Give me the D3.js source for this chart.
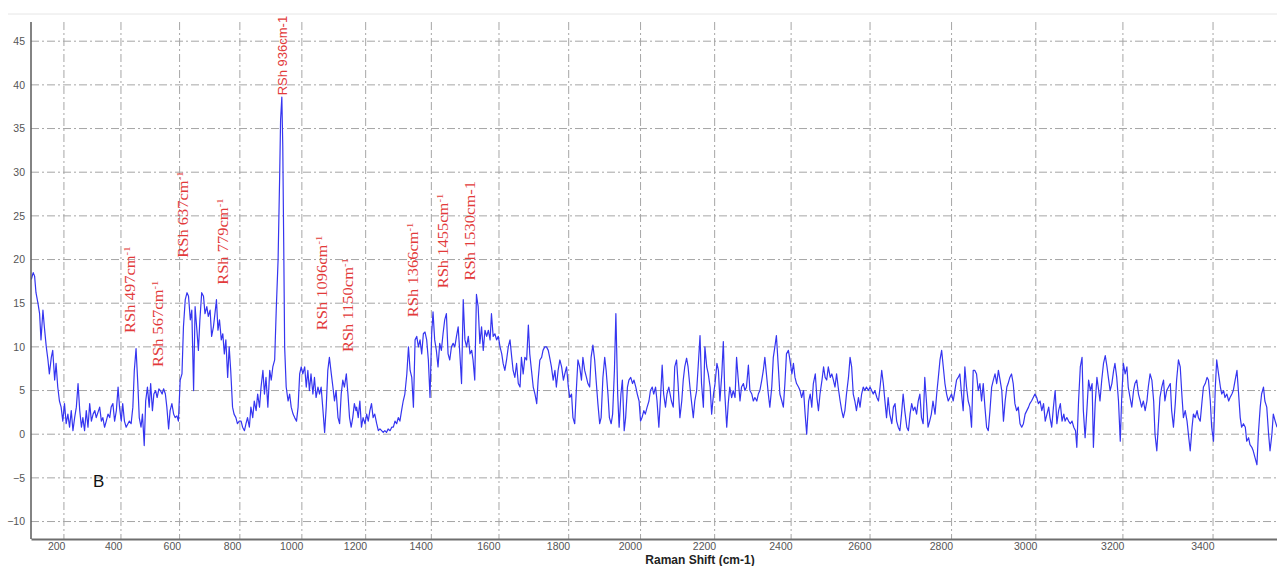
<!DOCTYPE html>
<html>
<head>
<meta charset="utf-8">
<script src="https://cdn.jsdelivr.net/npm/d3@7"></script>
<style>
  body { margin: 0; background: #fff; }
  svg { display: block; }
</style>
</head>
<body>
<div id="chart"></div>
<script>
// Raman spectrum, sample B: [raman shift (cm-1), intensity]
const spectrum = [
  [83,17.7],[90,18.5],[95,18.1],[100,16.2],[107,15.0],[113,13.8],[118,10.8],[125,14.2],[130,12.3],[137,10.0],
  [143,8.5],[148,6.9],[155,8.8],[160,9.6],[167,6.2],[172,8.1],[178,5.4],[184,3.8],[190,3.1],[196,1.5],
  [202,3.5],[208,1.2],[214,2.3],[220,0.8],[226,2.7],[232,0.4],[238,1.9],[244,3.1],[250,5.8],[256,2.7],
  [262,0.8],[267,1.9],[273,0.4],[279,2.7],[285,0.8],[291,3.5],[297,1.5],[303,2.3],[309,2.7],[314,1.9],
  [320,2.5],[326,3.1],[332,1.5],[337,1.9],[343,0.8],[349,1.5],[355,2.3],[361,1.9],[366,3.1],[372,3.5],
  [378,1.5],[384,2.7],[390,5.4],[395,3.1],[401,1.5],[406,3.5],[412,1.5],[418,0.8],[424,1.2],[429,1.5],
  [435,1.2],[441,3.1],[446,7.3],[452,9.8],[458,5.8],[463,1.9],[469,0.8],[474,2.3],[480,-1.3],[485,3.8],
  [491,5.4],[497,3.1],[502,5.8],[508,2.7],[513,4.6],[519,5.0],[524,4.2],[530,5.2],[535,5.0],[541,4.6],
  [546,5.2],[552,4.6],[557,3.1],[563,0.6],[568,2.7],[574,3.5],[580,2.3],[585,1.9],[591,2.1],[596,1.5],
  [602,6.2],[608,6.9],[613,12.3],[619,15.4],[625,16.2],[630,15.8],[636,13.1],[641,14.2],[647,5.0],[652,14.6],
  [658,11.9],[663,9.6],[668,13.1],[674,16.2],[680,15.8],[685,13.8],[691,14.6],[696,13.5],[702,14.2],[707,11.2],
  [713,12.3],[718,13.8],[723,15.4],[728,11.9],[733,13.1],[739,10.8],[744,11.5],[749,9.2],[754,10.8],[760,6.5],
  [765,10.0],[770,7.3],[776,3.1],[781,2.3],[787,1.9],[792,1.2],[798,1.5],[804,1.5],[809,0.8],[815,0.4],
  [820,1.2],[825,1.9],[831,0.8],[836,3.1],[842,1.9],[847,3.8],[853,2.7],[858,4.6],[864,3.1],[869,5.4],
  [875,7.3],[880,4.6],[885,6.5],[891,3.1],[897,7.3],[902,6.2],[907,7.7],[913,8.5],[918,14.2],[924,20.0],
  [929,29.5],[932,36.0],[936,38.6],[939,33.0],[942,22.0],[945,10.0],[950,5.4],[956,3.8],[961,4.6],[966,3.1],
  [972,2.3],[977,1.9],[983,1.5],[988,3.1],[993,6.9],[998,7.7],[1003,6.9],[1009,7.7],[1014,5.4],[1019,7.3],
  [1024,5.0],[1029,6.9],[1035,4.6],[1040,6.5],[1045,4.2],[1051,5.4],[1056,4.6],[1061,5.4],[1066,3.1],[1072,0.2],
  [1077,3.1],[1082,7.3],[1087,8.8],[1093,6.9],[1098,5.4],[1103,3.8],[1108,5.0],[1114,1.9],[1119,1.2],[1124,4.6],
  [1129,6.2],[1134,5.4],[1140,6.9],[1145,4.6],[1150,1.9],[1155,0.8],[1160,1.9],[1165,3.5],[1170,2.7],[1172,3.1],
  [1177,1.9],[1182,3.8],[1187,0.8],[1192,1.9],[1198,1.2],[1203,2.3],[1208,1.5],[1213,2.7],[1218,3.5],[1223,1.9],
  [1228,2.3],[1234,1.2],[1239,0.4],[1244,0.6],[1249,0.4],[1254,0.2],[1259,0.4],[1264,0.2],[1269,0.6],[1275,0.4],
  [1280,0.8],[1285,0.8],[1290,1.5],[1295,1.2],[1300,1.9],[1305,1.5],[1310,2.7],[1315,3.8],[1320,4.6],[1326,6.9],
  [1331,10.0],[1336,7.3],[1341,6.5],[1346,3.1],[1351,10.8],[1356,11.2],[1361,10.0],[1366,10.8],[1371,9.2],[1376,11.5],
  [1381,11.7],[1386,10.8],[1391,8.5],[1396,4.2],[1401,11.5],[1405,14.0],[1410,10.8],[1415,9.6],[1420,7.7],[1425,10.4],
  [1430,9.6],[1435,11.5],[1440,13.1],[1445,13.8],[1450,9.2],[1455,8.5],[1460,10.0],[1465,10.4],[1470,10.0],[1475,11.2],
  [1480,12.3],[1485,9.2],[1490,5.8],[1495,15.4],[1500,10.8],[1505,10.0],[1510,11.2],[1515,9.2],[1520,9.6],[1524,8.5],
  [1529,6.2],[1534,16.0],[1539,14.6],[1544,10.4],[1549,12.3],[1554,9.6],[1559,11.9],[1564,11.2],[1569,11.9],[1574,10.8],
  [1578,13.8],[1583,11.2],[1588,11.5],[1593,10.8],[1598,11.2],[1603,10.0],[1608,9.2],[1612,8.1],[1617,7.3],[1622,8.5],
  [1627,10.0],[1632,10.8],[1637,8.8],[1641,7.3],[1646,6.5],[1651,8.1],[1656,5.8],[1661,5.4],[1665,8.8],[1670,6.9],
  [1675,8.8],[1680,8.5],[1685,12.5],[1689,9.2],[1694,7.3],[1699,5.4],[1704,4.6],[1709,3.5],[1713,6.2],[1718,8.5],
  [1723,8.8],[1727,9.6],[1732,10.0],[1737,10.0],[1742,9.6],[1746,8.8],[1751,7.7],[1756,6.2],[1761,7.3],[1765,5.4],
  [1770,7.3],[1775,8.5],[1780,7.7],[1785,6.2],[1789,6.9],[1794,7.7],[1799,5.4],[1803,4.2],[1808,4.6],[1812,1.9],
  [1817,1.2],[1822,5.4],[1826,8.5],[1831,7.7],[1836,6.2],[1840,8.8],[1845,7.3],[1850,6.5],[1854,5.8],[1859,5.4],
  [1863,8.8],[1868,10.2],[1873,8.5],[1877,6.2],[1882,3.5],[1887,1.2],[1891,1.9],[1896,6.5],[1901,8.8],[1905,7.3],
  [1910,4.6],[1914,1.9],[1919,1.2],[1923,2.3],[1928,7.3],[1932,13.8],[1937,4.6],[1941,0.8],[1946,4.6],[1950,6.2],
  [1955,0.4],[1959,1.9],[1964,5.4],[1968,6.2],[1973,6.5],[1978,5.8],[1982,6.2],[1987,5.4],[1991,4.6],[1996,3.8],
  [2000,1.5],[2004,1.9],[2009,2.7],[2013,2.3],[2018,3.1],[2023,3.8],[2027,5.0],[2032,5.4],[2036,4.6],[2041,5.4],
  [2045,3.8],[2050,0.8],[2054,3.8],[2059,7.9],[2063,4.6],[2068,3.1],[2072,4.6],[2077,5.4],[2084,3.8],[2089,3.1],
  [2093,7.7],[2098,8.5],[2102,5.8],[2107,1.9],[2112,3.8],[2116,6.2],[2120,7.7],[2125,8.7],[2129,7.7],[2134,5.4],
  [2138,3.8],[2143,1.9],[2147,3.8],[2152,5.0],[2156,7.7],[2161,11.3],[2165,5.8],[2170,3.1],[2174,10.0],[2179,7.7],
  [2183,6.9],[2188,5.4],[2192,2.3],[2197,4.6],[2201,5.8],[2206,8.1],[2210,7.3],[2214,3.8],[2219,6.9],[2223,10.6],
  [2227,4.6],[2232,0.8],[2236,3.5],[2240,5.4],[2245,4.2],[2249,5.0],[2254,4.2],[2258,8.8],[2262,6.5],[2267,3.8],
  [2271,5.4],[2276,5.8],[2280,5.0],[2284,5.4],[2289,7.9],[2293,5.0],[2298,4.6],[2302,3.8],[2306,4.2],[2311,3.8],
  [2315,4.6],[2319,5.0],[2324,6.2],[2328,7.3],[2332,8.8],[2337,6.5],[2341,4.6],[2345,3.1],[2350,5.4],[2354,8.8],
  [2358,10.0],[2362,11.3],[2367,7.7],[2371,4.6],[2376,3.8],[2380,3.1],[2384,5.8],[2388,9.2],[2393,9.6],[2397,8.5],
  [2402,6.9],[2406,8.1],[2410,6.5],[2414,5.8],[2419,5.4],[2423,5.0],[2427,4.2],[2432,5.0],[2436,2.3],[2440,0.0],
  [2445,3.8],[2449,4.6],[2453,3.1],[2457,5.8],[2462,6.9],[2466,4.2],[2470,2.7],[2474,4.6],[2479,6.2],[2483,7.7],
  [2487,6.5],[2491,6.2],[2495,7.7],[2500,6.5],[2504,6.9],[2508,6.2],[2512,5.4],[2516,6.9],[2520,5.4],[2525,3.8],
  [2529,2.7],[2533,1.9],[2537,2.7],[2541,4.6],[2546,6.5],[2550,8.8],[2554,7.7],[2558,4.6],[2562,3.8],[2566,2.7],
  [2571,4.2],[2575,3.1],[2579,4.6],[2583,5.4],[2587,5.0],[2591,5.4],[2596,5.0],[2600,5.4],[2604,5.0],[2608,4.6],
  [2612,5.0],[2617,4.2],[2621,3.8],[2625,5.4],[2629,7.3],[2633,5.8],[2637,3.8],[2641,1.9],[2645,4.2],[2649,2.3],
  [2654,1.2],[2658,3.1],[2662,3.5],[2666,1.5],[2670,0.8],[2674,0.4],[2678,2.3],[2682,4.6],[2686,2.7],[2691,0.8],
  [2695,0.4],[2699,2.3],[2703,3.5],[2707,2.7],[2711,3.1],[2715,2.3],[2719,3.8],[2723,4.6],[2727,1.9],[2731,1.2],
  [2735,6.5],[2739,3.8],[2743,0.8],[2747,1.5],[2751,2.3],[2755,3.8],[2760,2.3],[2764,4.6],[2768,6.5],[2772,8.5],
  [2776,9.6],[2780,7.7],[2784,5.8],[2788,4.6],[2792,3.8],[2796,4.2],[2800,4.6],[2804,3.8],[2808,5.0],[2812,6.2],
  [2816,6.5],[2820,6.9],[2824,4.6],[2828,2.7],[2832,7.7],[2836,5.4],[2840,3.8],[2844,3.1],[2848,0.8],[2852,7.3],
  [2856,7.3],[2860,6.9],[2864,5.0],[2868,5.8],[2872,3.8],[2876,5.8],[2880,3.1],[2884,0.8],[2888,0.4],[2892,2.7],
  [2896,5.4],[2900,6.2],[2904,6.9],[2908,5.8],[2912,7.3],[2916,6.2],[2920,5.0],[2924,1.5],[2928,3.8],[2932,5.4],
  [2935,5.8],[2939,6.5],[2943,6.9],[2947,5.8],[2951,3.5],[2955,2.7],[2959,3.1],[2963,1.2],[2967,0.8],[2971,1.2],
  [2975,2.3],[2979,2.7],[2983,3.1],[2986,3.5],[2990,3.8],[2994,4.2],[2998,4.6],[3002,4.2],[3006,3.5],[3010,3.8],
  [3014,2.7],[3018,3.5],[3022,1.5],[3026,2.3],[3030,3.1],[3033,1.9],[3037,0.8],[3041,3.1],[3045,5.0],[3049,1.2],
  [3053,2.7],[3057,3.5],[3061,1.5],[3065,2.3],[3068,1.5],[3072,1.9],[3076,1.5],[3080,1.2],[3084,1.5],[3088,0.8],
  [3092,0.4],[3095,-1.5],[3099,3.8],[3103,7.7],[3107,8.8],[3110,2.7],[3114,-0.4],[3118,2.7],[3122,6.2],[3126,5.0],
  [3130,5.8],[3133,-1.5],[3137,3.5],[3141,6.5],[3145,5.0],[3148,3.8],[3152,6.2],[3156,8.1],[3160,9.0],[3164,7.7],
  [3167,6.5],[3171,5.0],[3175,5.8],[3179,7.3],[3182,8.1],[3186,6.5],[3190,3.8],[3194,-0.8],[3197,3.8],[3201,8.1],
  [3205,6.9],[3209,7.7],[3212,5.4],[3216,4.2],[3220,3.1],[3224,5.0],[3227,5.8],[3231,6.2],[3235,4.6],[3239,3.8],
  [3242,3.1],[3246,3.8],[3250,2.7],[3254,3.8],[3257,5.4],[3261,6.9],[3265,6.2],[3269,3.8],[3272,0.0],[3276,-1.9],
  [3280,1.5],[3283,4.2],[3287,5.4],[3291,6.2],[3294,3.8],[3298,5.0],[3302,5.4],[3306,5.8],[3309,2.7],[3313,0.8],
  [3317,3.5],[3320,6.2],[3324,8.5],[3328,7.7],[3332,4.2],[3335,1.9],[3339,2.7],[3343,1.5],[3346,0.0],[3350,-1.9],
  [3354,0.8],[3357,2.3],[3361,1.9],[3365,2.7],[3368,1.9],[3372,1.5],[3376,3.8],[3379,5.4],[3383,5.8],[3387,6.5],
  [3390,6.2],[3394,3.8],[3397,0.8],[3401,-0.8],[3405,5.4],[3408,8.5],[3412,6.9],[3416,5.4],[3419,4.6],[3423,5.0],
  [3426,4.2],[3430,4.6],[3434,3.8],[3437,4.2],[3441,4.6],[3444,5.0],[3448,6.2],[3452,7.3],[3455,5.0],[3459,1.9],
  [3462,0.8],[3466,1.2],[3470,0.8],[3473,-0.8],[3477,-0.4],[3480,-1.2],[3484,-1.5],[3487,-1.9],[3491,-2.7],[3495,-3.5],
  [3498,0.0],[3502,3.1],[3505,4.6],[3509,5.4],[3512,3.8],[3516,3.1],[3520,0.0],[3523,-1.9],[3527,0.0],[3530,2.3],
  [3534,1.5],[3538,0.8]
];

const xTicks = [200,400,600,800,1000,1200,1400,1600,1800,2000,2200,2400,2600,2800,3000,3200,3400];
const yTicks = [-10,-5,0,5,10,15,20,25,30,35,40,45];

// peak labels: text, whether it has a superscript -1, where the label sits (shift, intensity at its foot)
const peakText  = ["RSh 497cm","RSh 567cm","RSh 637cm","RSh 779cm","RSh 936cm-1","RSh 1096cm","RSh 1150cm","RSh 1366cm","RSh 1455cm","RSh 1530cm-1"];
const peakSup   = [true,true,true,true,false,true,true,true,true,false];
const peakAt    = [448,544,629,761,952,1079,1160,1360,1449,1529];
const peakFoot  = [11.6,7.7,20.2,17.1,38.8,11.9,9.4,13.4,16.7,17.6];

const width = 1277, height = 566;
const plotLeft = 31, plotRight = 1278, plotTop = 14, plotBottom = 539;

// the spectrometer axis is linear in wavelength, not in shift
const laser = 14973; // cm-1
const toWl = s => 1e7 / (laser - s);

const svg = d3.select("#chart").append("svg")
    .attr("width", width)
    .attr("height", height)
    .style("font-family", "'Liberation Sans', Arial, sans-serif");

const xw = d3.scaleLinear().domain([toWl(82), toWl(3540)]).range([plotLeft, plotRight]);
const x = s => xw(toWl(s));
const y = d3.scaleLinear().domain([-12, 48]).range([plotBottom, plotTop + 1]);

// faint frame line at the top
svg.append("line")
    .attr("x1", 8).attr("x2", width).attr("y1", plotTop).attr("y2", plotTop)
    .attr("stroke", "#e6e6e6");

// grid
const grid = svg.append("g").attr("stroke", "#a6a6a6").attr("stroke-dasharray", "8,3,2,3");
grid.selectAll(".vg").data(xTicks).join("line")
    .attr("x1", d => x(d)).attr("x2", d => x(d))
    .attr("y1", 22).attr("y2", plotBottom);
grid.selectAll(".hg").data(yTicks).join("line")
    .attr("x1", plotLeft).attr("x2", width)
    .attr("y1", d => y(d)).attr("y2", d => y(d));

// spectrum
svg.append("clipPath").attr("id", "clip")
    .append("rect").attr("x", plotLeft).attr("y", plotTop).attr("width", width - plotLeft).attr("height", plotBottom - plotTop);

const line = d3.line().x(d => x(d[0])).y(d => y(d[1]));
svg.append("path")
    .datum(spectrum)
    .attr("clip-path", "url(#clip)")
    .attr("fill", "none")
    .attr("stroke", "#3535f0")
    .attr("stroke-width", 1.2)
    .attr("stroke-linejoin", "round")
    .attr("d", line);

// axes
const xAxis = svg.append("g")
    .attr("transform", `translate(0,${plotBottom})`)
    .call(d3.axisBottom(xw).tickValues(xTicks.map(toWl)).tickFormat((d, i) => xTicks[i]).tickSize(0).tickPadding(4));
xAxis.select(".domain").attr("stroke", "#6e6e6e").attr("stroke-width", 2);
xAxis.selectAll("text")
    .attr("text-anchor", "end").attr("x", 1)
    .attr("fill", "#555").style("font-size", "10.5px");

const yAxis = svg.append("g")
    .attr("transform", `translate(${plotLeft},0)`)
    .call(d3.axisLeft(y).tickValues(yTicks).tickSize(0).tickPadding(6));
yAxis.select(".domain").attr("d", `M0,22V${plotBottom}`).attr("stroke", "#5a5a5a").attr("stroke-width", 1.5);
yAxis.selectAll("text").attr("fill", "#555").style("font-size", "10.5px");

svg.append("text")
    .attr("x", 700).attr("y", 564)
    .attr("text-anchor", "middle")
    .style("font-size", "12px").style("font-weight", "bold")
    .attr("fill", "#222")
    .text("Raman Shift (cm-1)");

// panel letter
svg.append("text")
    .attr("x", 93).attr("y", 487)
    .style("font-size", "17px")
    .attr("fill", "#111")
    .text("B");

// peak labels
peakText.forEach((t, i) => {
    const serif = i !== 4;
    const lab = svg.append("text")
        .attr("transform", `translate(${x(peakAt[i])},${y(peakFoot[i])}) rotate(-90)` + (serif ? " scale(1.18,1)" : ""))
        .attr("fill", "#e23a3a")
        .style("font-family", serif ? "'Liberation Serif', 'Times New Roman', serif" : "'Liberation Sans', Arial, sans-serif")
        .style("font-size", serif ? "14px" : "13px");
    lab.append("tspan").text(t);
    if (peakSup[i]) {
        lab.append("tspan").attr("dy", "-0.55em").style("font-size", "9px").text("-1");
    }
});
</script>
</body>
</html>
